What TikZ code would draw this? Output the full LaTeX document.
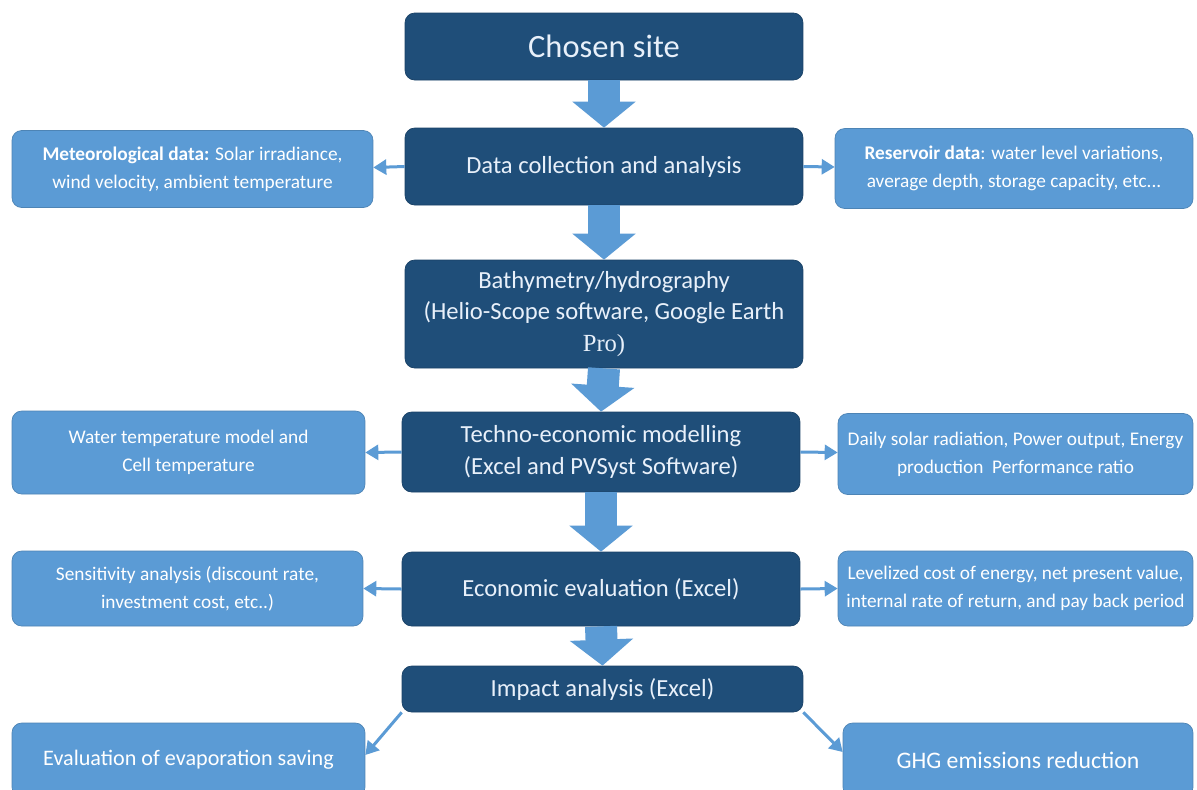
\documentclass[tikz,border=0pt]{standalone}
\usepackage{fontspec}
\setmainfont{Carlito}
\newfontfamily\proserif{Liberation Serif}
\usetikzlibrary{arrows.meta}

\definecolor{stepblue}{RGB}{31,78,121}
\definecolor{sideblue}{RGB}{91,155,213}
\definecolor{steptext}{RGB}{232,240,250}

\tikzset{
  mainbox/.style={draw=stepblue!85!black, fill=stepblue, rounded corners=5.5pt,
    text=steptext, align=center, inner sep=2pt,
    font=\fontsize{14}{18}\selectfont},
  sidebox/.style={draw=sideblue!85!black, fill=sideblue, rounded corners=5.5pt,
    text=white, align=center, inner sep=2pt,
    font=\fontsize{11}{16}\selectfont},
  flowarrow/.style={draw=sideblue, line width=0.64cm,
    -{Triangle[width=1.24cm,length=0.52cm]}},
  link/.style={draw=sideblue, line width=0.06cm,
    -{Triangle[width=0.3cm,length=0.26cm]}},
}

\begin{document}
\begin{tikzpicture}[x=0.02cm,y=-0.02cm]
  \clip (0,0) rectangle (1197,789);
  \fill[white] (0,0) rectangle (1197,789);

  % main column
  \node[mainbox, minimum width=7.96cm, minimum height=1.34cm,
    font=\fontsize{18.5}{22}\selectfont] (site) at (604,46.5) {Chosen site};
  \node[mainbox, minimum width=7.96cm, minimum height=1.54cm] (collect) at (604,166.5)
    {Data collection and analysis};
  \node[mainbox, minimum width=7.96cm, minimum height=2.16cm] (bathy) at (604,314)
    {Bathymetry/hydrography\\(Helio-Scope software, Google Earth\\{\proserif Pro)}};
  \node[mainbox, minimum width=7.96cm, minimum height=1.6cm] (techno) at (601,452)
    {Techno-economic modelling\\(Excel and PVSyst Software)};
  \node[mainbox, minimum width=7.96cm, minimum height=1.48cm] (econ) at (601,589)
    {Economic evaluation (Excel)};
  \node[mainbox, minimum width=8.02cm, minimum height=0.92cm] (impact) at (602.5,689)
    {Impact analysis (Excel)};

  % side boxes
  \node[sidebox, minimum width=7.22cm, minimum height=1.54cm] (meteo) at (192.5,169)
    {\textbf{Meteorological data:} Solar irradiance,\\wind velocity, ambient temperature};
  \node[sidebox, minimum width=7.16cm, minimum height=1.6cm] (reservoir) at (1014,168.5)
    {\textbf{Reservoir data}: water level variations,\\average depth, storage capacity, etc...};
  \node[sidebox, minimum width=7.06cm, minimum height=1.66cm] (watertemp) at (188.5,452.5)
    {Water temperature model and\\Cell temperature};
  \node[sidebox, minimum width=7.1cm, minimum height=1.62cm] (solar) at (1015.5,454)
    {Daily solar radiation, Power output, Energy\\production~ Performance ratio};
  \node[sidebox, minimum width=7.02cm, minimum height=1.5cm] (sens) at (187.5,588.5)
    {Sensitivity analysis (discount rate,\\investment cost, etc..)};
  \node[sidebox, minimum width=7.1cm, minimum height=1.5cm] (lcoe) at (1015.5,588.5)
    {Levelized cost of energy, net present value,\\internal rate of return, and pay back period};
  \node[sidebox, minimum width=7.06cm, minimum height=1.48cm,
    font=\fontsize{12.6}{14}\selectfont] (evap) at (188.5,760)
    {Evaluation of evaporation saving};
  \node[sidebox, minimum width=7.0cm, minimum height=1.48cm,
    font=\fontsize{13.5}{14}\selectfont] (ghg) at (1018,760)
    {GHG emissions reduction};

  % block arrows
  \draw[flowarrow] (site.south) -- (collect.north);
  \draw[flowarrow] (collect.south) -- (bathy.north);
  \draw[flowarrow] (bathy.south) -- (techno.north);
  \draw[flowarrow] (techno.south) -- (econ.north);
  \draw[flowarrow] (econ.south) -- (impact.north);

  % thin arrows
  \draw[link] (collect.west) -- ([yshift=0.03cm]meteo.east);
  \draw[link] (collect.east) -- ([yshift=0.03cm]reservoir.west);
  \draw[link] (techno.west) -- (watertemp.east);
  \draw[link] (techno.east) -- ([yshift=0.03cm]solar.west);
  \draw[link] (econ.west) -- (sens.east);
  \draw[link] (econ.east) -- (lcoe.west);
  \draw[link] (impact.south west) -- ([yshift=0.1cm]evap.east);
  \draw[link] (impact.south east) -- ([yshift=0.16cm]ghg.west);
\end{tikzpicture}
\end{document}
